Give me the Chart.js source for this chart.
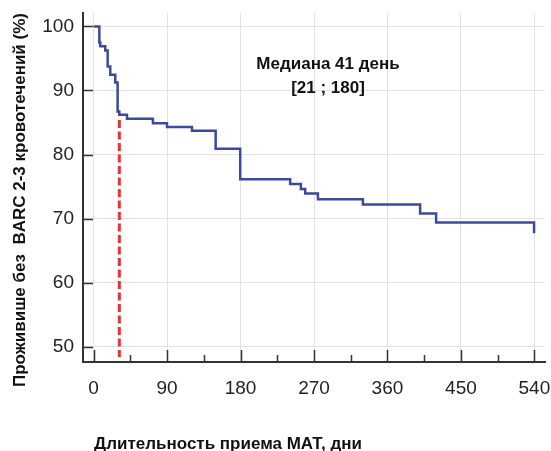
<!DOCTYPE html>
<html>
<head>
<meta charset="utf-8">
<script src="https://cdn.jsdelivr.net/npm/chart.js@4/dist/chart.umd.min.js"></script>
<style>
  html, body { margin: 0; padding: 0; background: #fff; }
  #wrap { width: 551px; height: 451px; }
</style>
</head>
<body>
<div id="wrap"><canvas id="km"></canvas></div>
<script>
// Kaplan-Meier step points (day, % free of BARC 2-3 bleeding)
const days     = [0, 7, 8.2, 14.3, 17.2, 20.4, 26.5, 29.4, 31.5, 40.9, 72.7, 89.9, 120.5, 149.5, 179.6, 240.8, 253.9, 259.2, 274.8, 329.9, 400, 419.6, 539.6];
const survival = [100, 97.5, 96.9, 96.25, 93.75, 92.45, 91.25, 86.7, 86.2, 85.6, 84.9, 84.3, 83.7, 80.9, 76.15, 75.4, 74.6, 73.9, 73.0, 72.2, 70.8, 69.4, 67.7];

// median marker (red dashed)
const medianDay = [31.5, 31.5];
const medianY   = [85.4, 48.4];

const xTicks = [0, 90, 180, 270, 360, 450, 540];
const xMinorTicks = [45, 135, 225, 315, 405, 495];
const yTicks = [50, 60, 70, 80, 90, 100];

const annotation = ['Медиана 41 день', '[21 ; 180]'];
const xTitle = 'Длительность приема МАТ, дни';
const yTitle = 'Проживише без  BARC 2-3 кровотечений (%)';

const tickFont = { family: '"Liberation Sans Narrow", "Liberation Sans", sans-serif', size: 19 };
const boldFont = 'bold 17px "Liberation Sans", Arial, sans-serif';

const tickMarks = {
    id: 'tickMarks',
    afterDraw(chart) {
        const { ctx, chartArea, scales } = chart;
        const x = scales.x, y = scales.y;
        ctx.save();
        ctx.strokeStyle = '#333';
        ctx.lineWidth = 1.5;
        ctx.beginPath();
        yTicks.forEach(v => {
            const py = Math.round(y.getPixelForValue(v)) + 0.5;
            ctx.moveTo(chartArea.left, py);
            ctx.lineTo(chartArea.left + 10, py);
        });
        xTicks.forEach(v => {
            const px = Math.round(x.getPixelForValue(v)) + 0.5;
            ctx.moveTo(px, chartArea.bottom);
            ctx.lineTo(px, chartArea.bottom - 12);
        });
        xMinorTicks.forEach(v => {
            const px = Math.round(x.getPixelForValue(v)) + 0.5;
            ctx.moveTo(px, chartArea.bottom);
            ctx.lineTo(px, chartArea.bottom - 7);
        });
        ctx.stroke();

        ctx.fillStyle = '#111';
        ctx.font = boldFont;
        ctx.textAlign = 'center';
        ctx.textBaseline = 'alphabetic';
        ctx.fillText(annotation[0], 328, 69);
        ctx.fillText(annotation[1], 328, 93);
        ctx.fillText(xTitle, 228, 449);

        ctx.translate(25, 200);
        ctx.rotate(-Math.PI / 2);
        ctx.fillText(yTitle, 0, 0);
        ctx.restore();
    }
};

new Chart(document.getElementById('km'), {
    type: 'scatter',
    data: {
        datasets: [{
            label: 'KM',
            data: days.map((d, i) => ({ x: d, y: survival[i] })),
            showLine: true,
            stepped: 'before',
            borderColor: '#3a4a9f',
            borderWidth: 2.5,
            pointRadius: 0,
            fill: false
        }, {
            label: 'median',
            data: medianDay.map((d, i) => ({ x: d, y: medianY[i] })),
            showLine: true,
            borderColor: '#ea3232',
            borderWidth: 3,
            borderDash: [8, 3.5],
            pointRadius: 0,
            fill: false
        }]
    },
    options: {
        responsive: true,
        maintainAspectRatio: false,
        animation: false,
        layout: { padding: { top: 13, right: 6, left: 0, bottom: 0 } },
        plugins: { legend: { display: false }, tooltip: { enabled: false } },
        scales: {
            x: {
                type: 'linear',
                min: -13,
                max: 553,
                afterBuildTicks: s => { s.ticks = xTicks.map(v => ({ value: v })); },
                afterFit: s => { s.height = 89; s.paddingLeft = 0; s.paddingRight = 0; },
                ticks: { font: tickFont, color: '#222', padding: 15, maxRotation: 0 },
                grid: { color: '#e2e2e2', lineWidth: 1, drawTicks: false },
                border: { color: '#333', width: 2 }
            },
            y: {
                type: 'linear',
                min: 47.6,
                max: 102.1,
                afterBuildTicks: s => { s.ticks = yTicks.map(v => ({ value: v })); },
                afterFit: s => { s.width = 83; s.paddingTop = 0; s.paddingBottom = 0; },
                ticks: { font: tickFont, color: '#222', padding: 9 },
                grid: { color: '#e2e2e2', lineWidth: 1, drawTicks: false },
                border: { color: '#333', width: 2 }
            }
        }
    },
    plugins: [tickMarks]
});
</script>
</body>
</html>
